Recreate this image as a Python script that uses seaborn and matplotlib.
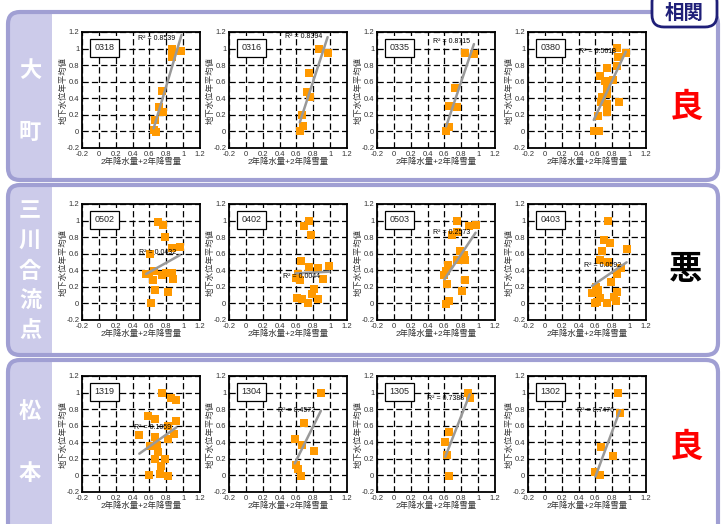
import numpy as np
import pandas as pd
import matplotlib

matplotlib.use("Agg")
import matplotlib.pyplot as plt
import seaborn as sns
from matplotlib.patches import FancyBboxPatch, Rectangle
from matplotlib.transforms import IdentityTransform

# 観測地点ごとのデータ (x: 2年降水量+2年降雪量, y: 地下水位年平均値)
x_0318 = [0.87, 0.98, 0.87, 0.75, 0.71, 0.76, 0.67, 0.65, 0.68]
y_0318 = [1.00, 0.97, 0.90, 0.49, 0.30, 0.24, 0.14, 0.02, -0.01]
x_0316 = [0.87, 0.97, 0.75, 0.72, 0.76, 0.67, 0.68, 0.64]
y_0316 = [1.00, 0.95, 0.71, 0.47, 0.42, 0.20, 0.06, 0.00]
x_0335 = [0.85, 0.95, 0.73, 0.66, 0.75, 0.66, 0.62]
y_0335 = [0.95, 0.93, 0.53, 0.31, 0.30, 0.05, 0.00]
x_0380 = [0.86, 0.96, 0.87, 0.74, 0.86, 0.65, 0.81, 0.71, 0.74, 0.68, 0.74, 0.67, 0.74, 0.88, 0.63, 0.74, 0.58, 0.64]
y_0380 = [1.01, 0.95, 0.90, 0.76, 0.79, 0.67, 0.62, 0.61, 0.51, 0.41, 0.45, 0.35, 0.33, 0.35, 0.19, 0.23, 0.00, 0.00]

x_0502 = [0.70, 0.76, 0.78, 0.87, 0.96, 0.61, 0.60, 0.65, 0.64, 0.75, 0.80, 0.87, 0.88, 0.67, 0.82, 0.62, 0.56]
y_0502 = [0.98, 0.95, 0.80, 0.67, 0.68, 0.60, 0.36, 0.39, 0.28, 0.34, 0.37, 0.37, 0.30, 0.16, 0.14, 0.00, 0.36]
x_0402 = [0.75, 0.69, 0.77, 0.65, 0.75, 0.86, 0.99, 0.62, 0.59, 0.64, 0.91, 0.81, 0.79, 0.86, 0.61, 0.67, 0.74]
y_0402 = [1.00, 0.94, 0.83, 0.51, 0.44, 0.43, 0.45, 0.36, 0.31, 0.28, 0.30, 0.17, 0.11, 0.05, 0.07, 0.05, 0.00]
x_0503 = [0.75, 0.89, 0.97, 0.69, 0.75, 0.78, 0.83, 0.75, 0.85, 0.64, 0.62, 0.60, 0.63, 0.85, 0.81, 0.66, 0.62]
y_0503 = [1.00, 0.93, 0.95, 0.83, 0.86, 0.63, 0.59, 0.53, 0.53, 0.46, 0.39, 0.34, 0.24, 0.28, 0.15, 0.03, -0.01]
x_0403 = [0.75, 0.70, 0.77, 0.68, 0.97, 0.65, 0.75, 0.90, 0.85, 0.79, 0.61, 0.63, 0.56, 0.86, 0.82, 0.62, 0.65, 0.74, 0.84, 0.59]
y_0403 = [1.00, 0.77, 0.73, 0.63, 0.66, 0.52, 0.50, 0.43, 0.36, 0.26, 0.20, 0.16, 0.12, 0.14, 0.08, 0.02, 0.06, 0.00, 0.03, 0.01]

x_1319 = [0.75, 0.85, 0.92, 0.58, 0.67, 0.91, 0.48, 0.82, 0.89, 0.67, 0.82, 0.61, 0.69, 0.70, 0.67, 0.79, 0.74, 0.72, 0.82, 0.59]
y_1319 = [1.00, 0.94, 0.91, 0.72, 0.68, 0.66, 0.49, 0.60, 0.50, 0.46, 0.44, 0.35, 0.37, 0.28, 0.20, 0.20, 0.11, 0.02, -0.01, 0.00]
x_1304 = [0.89, 0.69, 0.58, 0.67, 0.81, 0.60, 0.62, 0.65]
y_1304 = [1.00, 0.63, 0.44, 0.37, 0.30, 0.13, 0.08, -0.01]
x_1305 = [0.88, 0.90, 0.66, 0.61, 0.63, 0.65]
y_1305 = [1.00, 0.93, 0.52, 0.40, 0.25, -0.01]
x_1302 = [0.87, 0.89, 0.67, 0.81, 0.60, 0.65]
y_1302 = [1.00, 0.75, 0.34, 0.23, 0.04, 0.00]

regions = ["大町", "三川合流点", "松本"]
verdicts = ["良", "悪", "良"]
sites = [["0318", "0316", "0335", "0380"],
         ["0502", "0402", "0503", "0403"],
         ["1319", "1304", "1305", "1302"]]
r2_labels = [["0.8539", "0.8394", "0.8715", "0.5618"],
             ["0.0432", "0.0044", "0.2573", "0.0592"],
             ["0.1059", "0.4572", "0.7388", "0.7476"]]
tick_values = [-0.2, 0, 0.2, 0.4, 0.6, 0.8, 1, 1.2]
tick_labels = ["-0.2", "0", "0.2", "0.4", "0.6", "0.8", "1", "1.2"]
x_label = "2年降水量+2年降雪量"
y_label = "地下水位年平均値"

series = {
    "0318": (x_0318, y_0318), "0316": (x_0316, y_0316), "0335": (x_0335, y_0335), "0380": (x_0380, y_0380),
    "0502": (x_0502, y_0502), "0402": (x_0402, y_0402), "0503": (x_0503, y_0503), "0403": (x_0403, y_0403),
    "1319": (x_1319, y_1319), "1304": (x_1304, y_1304), "1305": (x_1305, y_1305), "1302": (x_1302, y_1302),
}

# R2 ラベルの表示位置 (データ座標)
r2_pos = [[(0.69, 1.12), (0.68, 1.15), (0.68, 1.08), (0.63, 0.96)],
          [(0.70, 0.62), (0.66, 0.32), (0.69, 0.85), (0.69, 0.46)],
          [(0.64, 0.58), (0.60, 0.78), (0.61, 0.93), (0.60, 0.78)]]

sns.set_theme(style="white")
plt.rcParams["font.family"] = ["Liberation Sans", "Noto Sans CJK JP"]

W, H = 726, 524
fig = plt.figure(figsize=(W / 100, H / 100), dpi=100)
fig.patch.set_facecolor("white")

BORDER = "#A09FD3"
LABEL_FILL = "#CCCBEA"
row_tops = [12, 185, 360]
row_bottoms = [180, 355, 540]


def px_box(x0, y0, x1, y1, **kw):
    # 画面ピクセル座標 (上端基準) で角丸の枠を描く
    p = FancyBboxPatch((x0, H - y1), x1 - x0, y1 - y0,
                       boxstyle="round,pad=0,rounding_size=12",
                       transform=IdentityTransform(), **kw)
    fig.patches.append(p)
    return p


for top, bot in zip(row_tops, row_bottoms):
    px_box(8, top, 718, bot, facecolor="white", edgecolor="none", zorder=-6)
    px_box(8, top, 80, bot, facecolor=LABEL_FILL, edgecolor="none", zorder=-5)
    # ラベル列の右端はまっすぐ
    fig.patches.append(Rectangle((52, H - bot), 40, bot - top, facecolor="white",
                                 edgecolor="none", transform=IdentityTransform(),
                                 zorder=-4.5))
    px_box(8, top, 718, bot, facecolor="none", edgecolor=BORDER, lw=3, zorder=-4)

# 相関ボックス
px_box(652, -10, 717, 27, facecolor="white", edgecolor="#1F1F78", lw=2, zorder=-3)
fig.text(684.5 / W, 1 - 13 / H, "相関", ha="center", va="center", fontsize=14,
         fontweight="bold", color="#1F1F78", family=["Noto Sans CJK JP"])

# 左側の地域名 (縦書き)
row_centers = [101, 271, 442]
for name, cy in zip(regions, row_centers):
    step = 62 if len(name) == 2 else 30
    start = cy - step * (len(name) - 1) / 2
    for i, ch in enumerate(name):
        fig.text(30 / W, 1 - (start + i * step) / H, ch, ha="center", va="center",
                 fontsize=16, fontweight="bold", color="white", family=["Noto Sans CJK JP"])

# 右側の判定
verdict_y = [107, 270, 448]
for v, vy in zip(verdicts, verdict_y):
    fig.text(686 / W, 1 - vy / H, v, ha="center", va="center", fontsize=24,
             fontweight="bold", color="#FF0000" if v == "良" else "black",
             family=["Noto Sans CJK JP"])

col_lefts = [82, 229, 377, 528]
ax_tops = [32, 204, 376]
AW, AH = 118, 116

for r in range(3):
    for c in range(4):
        site = sites[r][c]
        xs, ys = series[site]
        df = pd.DataFrame({"x": xs, "y": ys})
        ax = fig.add_axes([col_lefts[c] / W, 1 - (ax_tops[r] + AH) / H, AW / W, AH / H])
        sns.regplot(data=df, x="x", y="y", ax=ax, ci=None, marker="s",
                    color="#FF9900",
                    scatter_kws=dict(s=38, linewidths=0, alpha=1, zorder=3),
                    line_kws=dict(color="#999999", lw=1.8, zorder=4))
        ax.set_xlim(-0.2, 1.2)
        ax.set_ylim(-0.2, 1.2)
        ax.set_xticks(tick_values)
        ax.set_xticklabels(tick_labels)
        ax.set_yticks(tick_values)
        ax.set_yticklabels(tick_labels)
        ax.grid(True, color="black", linestyle=(0, (5, 2.5)), lw=0.9)
        ax.set_axisbelow(True)
        ax.tick_params(labelsize=5.5, direction="in", length=3, width=0.8, pad=2,
                       colors="black", labelcolor="#333333")
        for s in ax.spines.values():
            s.set_color("black")
            s.set_linewidth(1.3)
        ax.set_xlabel(x_label, fontsize=6, labelpad=0, color="#333333")
        ax.set_ylabel(y_label, fontsize=6, labelpad=-1, color="#333333")
        ax.text(0.19, 0.865, site, transform=ax.transAxes, ha="center", va="center",
                fontsize=6.5, zorder=6,
                bbox=dict(boxstyle="square,pad=0.5", fc="white", ec="black", lw=0.9))
        px, py = r2_pos[r][c]
        ax.text(px, py, "R² = " + r2_labels[r][c], ha="center", va="center",
                fontsize=5, color="black", zorder=5)

fig.savefig("out.png", dpi=100)
